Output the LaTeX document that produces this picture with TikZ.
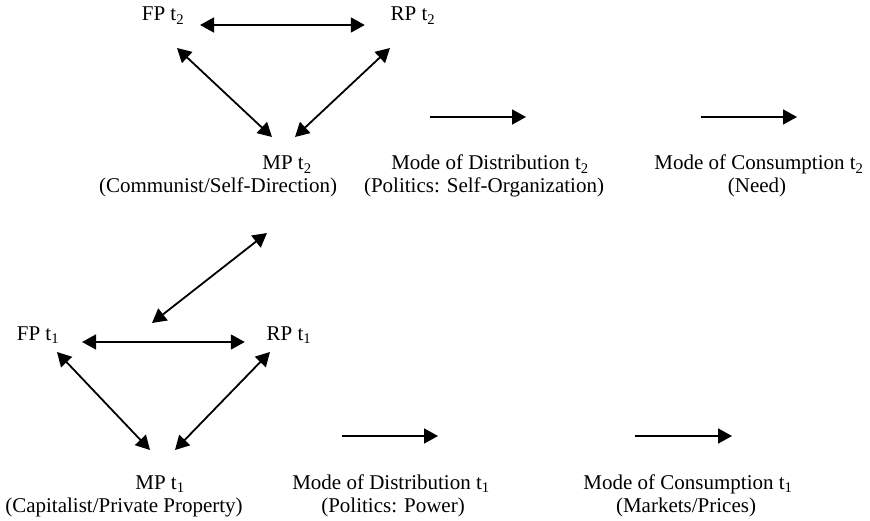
\documentclass[tikz,border=0pt]{standalone}
\usepackage{fontspec}
\setmainfont{Liberation Serif}
\usetikzlibrary{arrows.meta}

\begin{document}
\begin{tikzpicture}[x=1pt,y=-1pt,>={Triangle[length=14pt,width=15pt]},line width=1.8pt,
                    font=\fontsize{21}{25}\selectfont]
	  \tikzstyle{lbl}=[inner sep=0pt,anchor=base]
	  \tikzstyle{both}=[<->]
	  \tikzstyle{one}=[->]
	  \useasboundingbox (0,0) rectangle (870,521);

	  % t2
	  \node[lbl] (FP2)      at (163,21)  {FP t\textsubscript{2}};
	  \node[lbl] (RP2)      at (413,21)  {RP t\textsubscript{2}};
	  \node[lbl] (MP2)      at (287,170) {MP t\textsubscript{2}};
	  \node[lbl] (MP2note)  at (218,193) {(Communist/Self-Direction)};
	  \node[lbl] (Dist2)    at (490,170) {Mode of Distribution t\textsubscript{2}};
	  \node[lbl] (Dist2note) at (484,193) {(Politics: Self-Organization)};
	  \node[lbl] (Cons2)    at (759,170) {Mode of Consumption t\textsubscript{2}};
	  \node[lbl] (Cons2note) at (757,193) {(Need)};

	  % t1
	  \node[lbl] (FP1)      at (38,340)  {FP t\textsubscript{1}};
	  \node[lbl] (RP1)      at (289,340) {RP t\textsubscript{1}};
	  \node[lbl] (MP1)      at (160,489) {MP t\textsubscript{1}};
	  \node[lbl] (MP1note)  at (124,512) {(Capitalist/Private Property)};
	  \node[lbl] (Dist1)    at (391,489) {Mode of Distribution t\textsubscript{1}};
	  \node[lbl] (Dist1note) at (393,512) {(Politics: Power)};
	  \node[lbl] (Cons1)    at (688,489) {Mode of Consumption t\textsubscript{1}};
	  \node[lbl] (Cons1note) at (686,512) {(Markets/Prices)};

	  \draw[both] ([xshift=15pt,yshift=-4pt]FP2.base east) -- ([xshift=-25pt,yshift=-4pt]RP2.base west);
	  \draw[both] ([xshift=14pt,yshift=-27pt]FP2.base) -- ([xshift=-15pt,yshift=33pt]MP2.base);
	  \draw[both] ([xshift=-23pt,yshift=-27pt]RP2.base) -- ([xshift=8pt,yshift=33pt]MP2.base);
	  \draw[one] ([xshift=-60pt,yshift=53pt]Dist2.base) -- ([xshift=36pt,yshift=53pt]Dist2.base);
	  \draw[one] ([xshift=-58pt,yshift=53pt]Cons2.base) -- ([xshift=38pt,yshift=53pt]Cons2.base);

	  \draw[both] ([xshift=49pt,yshift=-40pt]MP2note.base) -- ([xshift=114pt,yshift=17pt]FP1.base);

	  \draw[both] ([xshift=22pt,yshift=-2pt]FP1.base east) -- ([xshift=-21pt,yshift=-2pt]RP1.base west);
	  \draw[both] ([xshift=19pt,yshift=-12pt]FP1.base) -- ([xshift=-10pt,yshift=39pt]MP1.base);
	  \draw[both] ([xshift=-19pt,yshift=-12pt]RP1.base) -- ([xshift=15pt,yshift=39pt]MP1.base);
	  \draw[one] ([xshift=-49pt,yshift=53pt]Dist1.base) -- ([xshift=47pt,yshift=53pt]Dist1.base);
	  \draw[one] ([xshift=-53pt,yshift=53pt]Cons1.base) -- ([xshift=44pt,yshift=53pt]Cons1.base);
\end{tikzpicture}
\end{document}
